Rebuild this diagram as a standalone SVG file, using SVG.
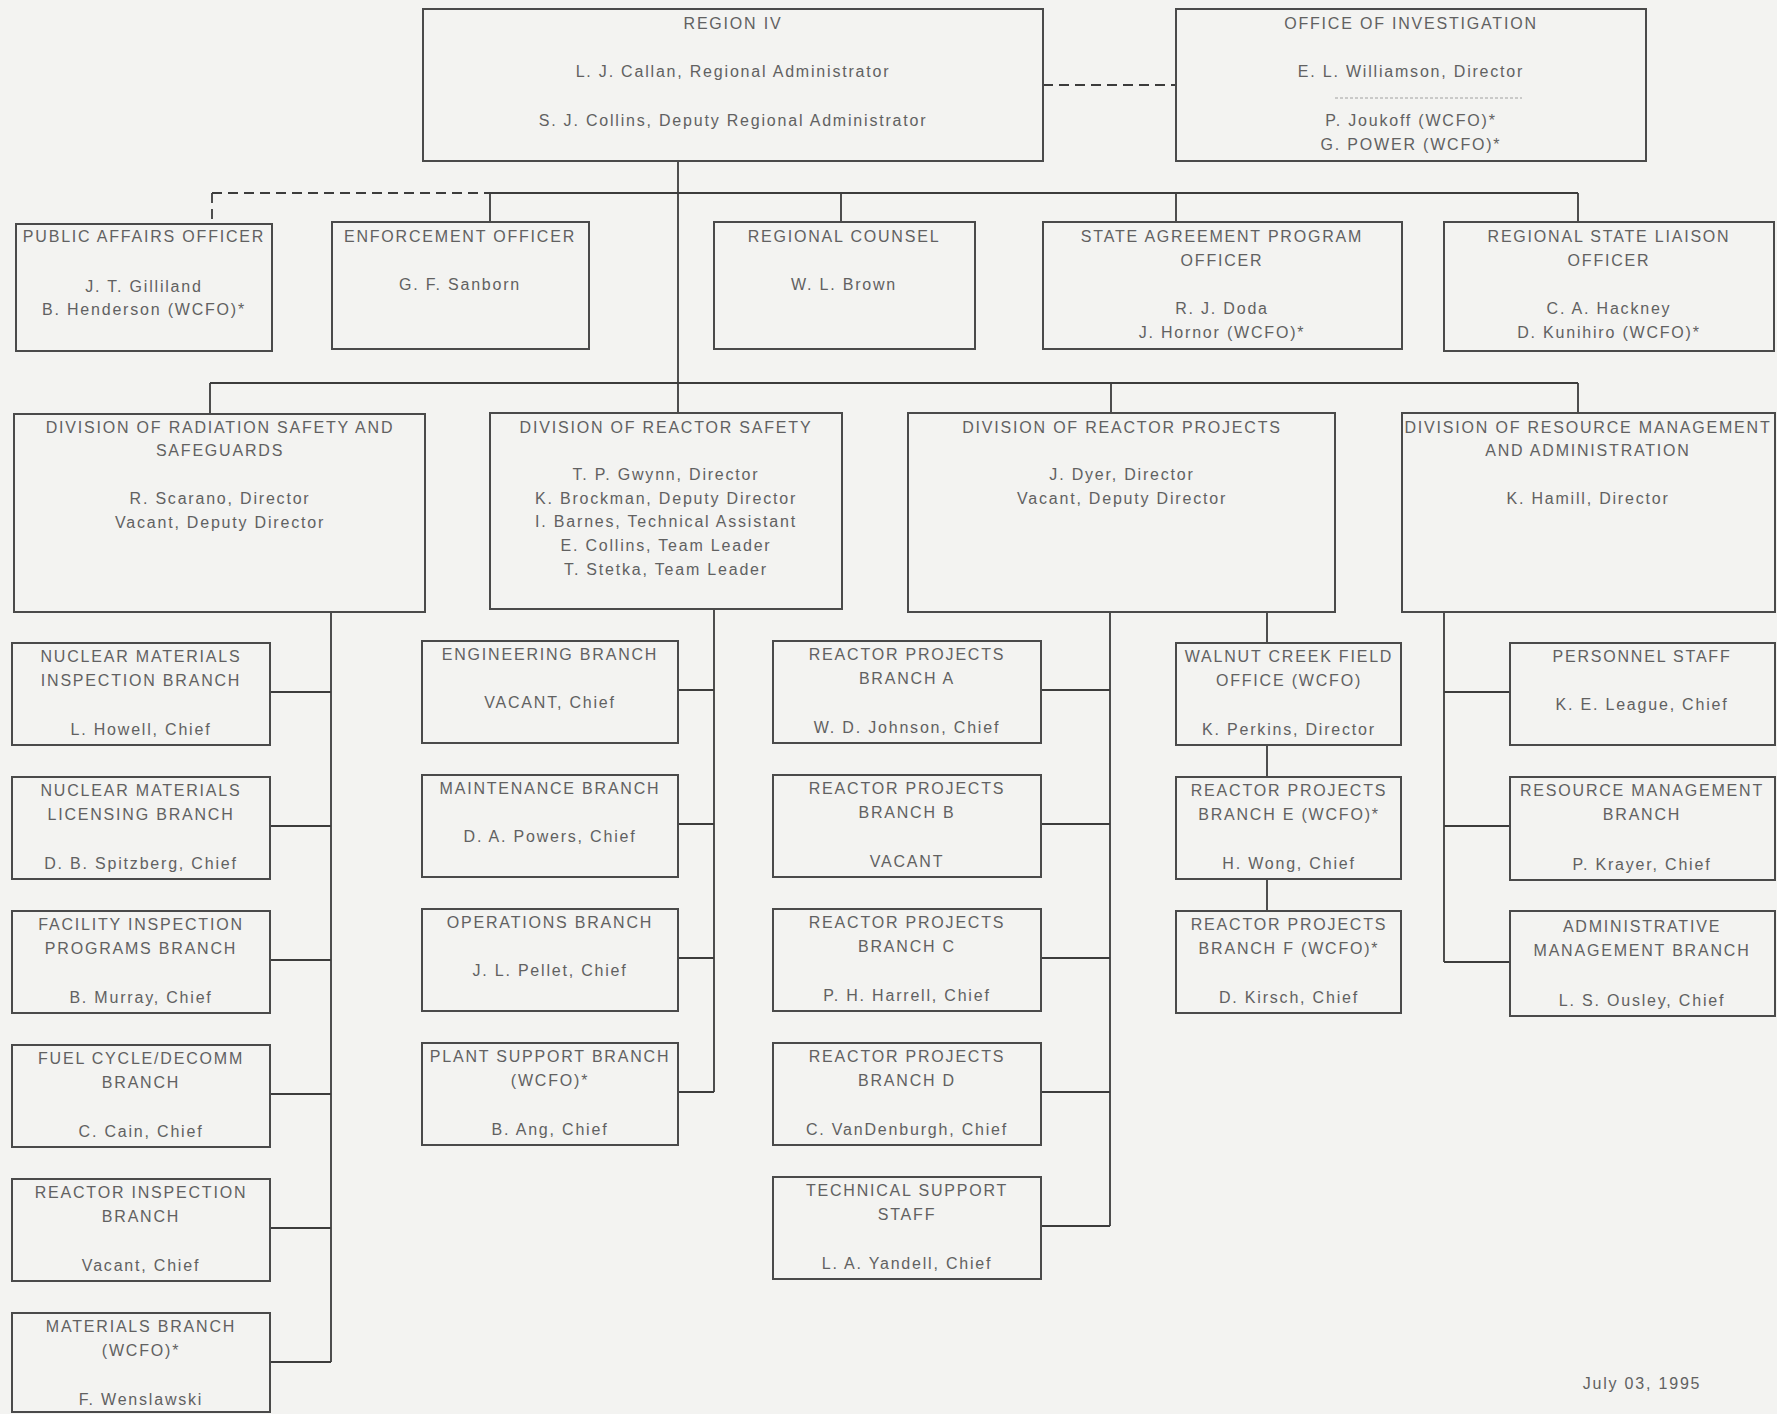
<svg xmlns="http://www.w3.org/2000/svg" width="1777" height="1414" viewBox="0 0 1777 1414">
<style>
.bg{fill:#f3f3f1}
.box{fill:none;stroke:#4a4a4a;stroke-width:2}
.ln{fill:none;stroke:#3c3c3c;stroke-width:1.8}
.dash{fill:none;stroke:#3c3c3c;stroke-width:1.8;stroke-dasharray:10 6}
.sep{fill:none;stroke:#a0a0a0;stroke-width:1;stroke-dasharray:3 2}
text{font-family:"Liberation Sans",Arial,sans-serif;font-size:16px;fill:#616161;text-anchor:middle;letter-spacing:1.8px}
</style>
<rect class="bg" x="0" y="0" width="1777" height="1414"/>
<g id="connectors">
<path class="dash" d="M1043 85H1176"/>
<path class="ln" d="M678 161V383"/>
<path class="dash" d="M212 193H490M212 193V224"/>
<path class="ln" d="M490 193H1578M490 193V222M841 193V222M1176 193V222M1578 193V222"/>
<path class="ln" d="M210 383H1578M210 383V414M678 383V413M1111 383V413M1578 383V413"/>
<path class="ln" d="M331 612V1362M270 692H331M270 826H331M270 960H331M270 1094H331M270 1228H331M270 1362H331"/>
<path class="ln" d="M714 609V1092M678 690H714M678 824H714M678 958H714M678 1092H714"/>
<path class="ln" d="M1110 612V1226M1041 690H1110M1041 824H1110M1041 958H1110M1041 1092H1110M1041 1226H1110"/>
<path class="ln" d="M1267 612V643M1267 745V777M1267 879V911"/>
<path class="ln" d="M1444 612V962M1444 692H1510M1444 826H1510M1444 962H1510"/>
</g>
<g id="region4"><rect class="box" x="423" y="9" width="620" height="152"/><text x="733" y="29">REGION IV</text><text x="733" y="77">L. J. Callan, Regional Administrator</text><text x="733" y="126">S. J. Collins, Deputy Regional Administrator</text></g>
<g id="investigation"><rect class="box" x="1176" y="9" width="470" height="152"/><text x="1411" y="29">OFFICE OF INVESTIGATION</text><text x="1411" y="77">E. L. Williamson, Director</text><path class="sep" d="M1335 98H1522"/><text x="1411" y="126">P. Joukoff (WCFO)*</text><text x="1411" y="150">G. POWER (WCFO)*</text></g>
<g id="public-affairs"><rect class="box" x="16" y="224" width="256" height="127"/><text x="144" y="242">PUBLIC AFFAIRS OFFICER</text><text x="144" y="292">J. T. Gilliland</text><text x="144" y="315">B. Henderson (WCFO)*</text></g>
<g id="enforcement"><rect class="box" x="332" y="222" width="257" height="127"/><text x="460" y="242">ENFORCEMENT OFFICER</text><text x="460" y="290">G. F. Sanborn</text></g>
<g id="counsel"><rect class="box" x="714" y="222" width="261" height="127"/><text x="844" y="242">REGIONAL COUNSEL</text><text x="844" y="290">W. L. Brown</text></g>
<g id="state-agreement"><rect class="box" x="1043" y="222" width="359" height="127"/><text x="1222" y="242">STATE AGREEMENT PROGRAM</text><text x="1222" y="266">OFFICER</text><text x="1222" y="314">R. J. Doda</text><text x="1222" y="338">J. Hornor (WCFO)*</text></g>
<g id="state-liaison"><rect class="box" x="1444" y="222" width="330" height="129"/><text x="1609" y="242">REGIONAL STATE LIAISON</text><text x="1609" y="266">OFFICER</text><text x="1609" y="314">C. A. Hackney</text><text x="1609" y="338">D. Kunihiro (WCFO)*</text></g>
<g id="drss"><rect class="box" x="14" y="414" width="411" height="198"/><text x="220" y="433">DIVISION OF RADIATION SAFETY AND</text><text x="220" y="456">SAFEGUARDS</text><text x="220" y="504">R. Scarano, Director</text><text x="220" y="528">Vacant, Deputy Director</text></g>
<g id="drs"><rect class="box" x="490" y="413" width="352" height="196"/><text x="666" y="433">DIVISION OF REACTOR SAFETY</text><text x="666" y="480">T. P. Gwynn, Director</text><text x="666" y="504">K. Brockman, Deputy Director</text><text x="666" y="527">I. Barnes, Technical Assistant</text><text x="666" y="551">E. Collins, Team Leader</text><text x="666" y="575">T. Stetka, Team Leader</text></g>
<g id="drp"><rect class="box" x="908" y="413" width="427" height="199"/><text x="1122" y="433">DIVISION OF REACTOR PROJECTS</text><text x="1122" y="480">J. Dyer, Director</text><text x="1122" y="504">Vacant, Deputy Director</text></g>
<g id="drma"><rect class="box" x="1402" y="413" width="373" height="199"/><text x="1588" y="433">DIVISION OF RESOURCE MANAGEMENT</text><text x="1588" y="456">AND ADMINISTRATION</text><text x="1588" y="504">K. Hamill, Director</text></g>
<g id="nm-inspection"><rect class="box" x="12" y="643" width="258" height="102"/><text x="141" y="662">NUCLEAR MATERIALS</text><text x="141" y="686">INSPECTION BRANCH</text><text x="141" y="735">L. Howell, Chief</text></g>
<g id="nm-licensing"><rect class="box" x="12" y="777" width="258" height="102"/><text x="141" y="796">NUCLEAR MATERIALS</text><text x="141" y="820">LICENSING BRANCH</text><text x="141" y="869">D. B. Spitzberg, Chief</text></g>
<g id="facility-inspection"><rect class="box" x="12" y="911" width="258" height="102"/><text x="141" y="930">FACILITY INSPECTION</text><text x="141" y="954">PROGRAMS BRANCH</text><text x="141" y="1003">B. Murray, Chief</text></g>
<g id="fuel-cycle"><rect class="box" x="12" y="1045" width="258" height="102"/><text x="141" y="1064">FUEL CYCLE/DECOMM</text><text x="141" y="1088">BRANCH</text><text x="141" y="1137">C. Cain, Chief</text></g>
<g id="reactor-inspection"><rect class="box" x="12" y="1179" width="258" height="102"/><text x="141" y="1198">REACTOR INSPECTION</text><text x="141" y="1222">BRANCH</text><text x="141" y="1271">Vacant, Chief</text></g>
<g id="materials"><rect class="box" x="12" y="1313" width="258" height="99"/><text x="141" y="1332">MATERIALS BRANCH</text><text x="141" y="1356">(WCFO)*</text><text x="141" y="1405">F. Wenslawski</text></g>
<g id="engineering"><rect class="box" x="422" y="641" width="256" height="102"/><text x="550" y="660">ENGINEERING BRANCH</text><text x="550" y="708">VACANT, Chief</text></g>
<g id="maintenance"><rect class="box" x="422" y="775" width="256" height="102"/><text x="550" y="794">MAINTENANCE BRANCH</text><text x="550" y="842">D. A. Powers, Chief</text></g>
<g id="operations"><rect class="box" x="422" y="909" width="256" height="102"/><text x="550" y="928">OPERATIONS BRANCH</text><text x="550" y="976">J. L. Pellet, Chief</text></g>
<g id="plant-support"><rect class="box" x="422" y="1043" width="256" height="102"/><text x="550" y="1062">PLANT SUPPORT BRANCH</text><text x="550" y="1086">(WCFO)*</text><text x="550" y="1135">B. Ang, Chief</text></g>
<g id="rp-a"><rect class="box" x="773" y="641" width="268" height="102"/><text x="907" y="660">REACTOR PROJECTS</text><text x="907" y="684">BRANCH A</text><text x="907" y="733">W. D. Johnson, Chief</text></g>
<g id="rp-b"><rect class="box" x="773" y="775" width="268" height="102"/><text x="907" y="794">REACTOR PROJECTS</text><text x="907" y="818">BRANCH B</text><text x="907" y="867">VACANT</text></g>
<g id="rp-c"><rect class="box" x="773" y="909" width="268" height="102"/><text x="907" y="928">REACTOR PROJECTS</text><text x="907" y="952">BRANCH C</text><text x="907" y="1001">P. H. Harrell, Chief</text></g>
<g id="rp-d"><rect class="box" x="773" y="1043" width="268" height="102"/><text x="907" y="1062">REACTOR PROJECTS</text><text x="907" y="1086">BRANCH D</text><text x="907" y="1135">C. VanDenburgh, Chief</text></g>
<g id="tech-support"><rect class="box" x="773" y="1177" width="268" height="102"/><text x="907" y="1196">TECHNICAL SUPPORT</text><text x="907" y="1220">STAFF</text><text x="907" y="1269">L. A. Yandell, Chief</text></g>
<g id="wcfo"><rect class="box" x="1176" y="643" width="225" height="102"/><text x="1289" y="662">WALNUT CREEK FIELD</text><text x="1289" y="686">OFFICE (WCFO)</text><text x="1289" y="735">K. Perkins, Director</text></g>
<g id="rp-e"><rect class="box" x="1176" y="777" width="225" height="102"/><text x="1289" y="796">REACTOR PROJECTS</text><text x="1289" y="820">BRANCH E (WCFO)*</text><text x="1289" y="869">H. Wong, Chief</text></g>
<g id="rp-f"><rect class="box" x="1176" y="911" width="225" height="102"/><text x="1289" y="930">REACTOR PROJECTS</text><text x="1289" y="954">BRANCH F (WCFO)*</text><text x="1289" y="1003">D. Kirsch, Chief</text></g>
<g id="personnel"><rect class="box" x="1510" y="643" width="265" height="102"/><text x="1642" y="662">PERSONNEL STAFF</text><text x="1642" y="710">K. E. League, Chief</text></g>
<g id="resource-mgmt"><rect class="box" x="1510" y="777" width="265" height="103"/><text x="1642" y="796">RESOURCE MANAGEMENT</text><text x="1642" y="820">BRANCH</text><text x="1642" y="870">P. Krayer, Chief</text></g>
<g id="admin-mgmt"><rect class="box" x="1510" y="911" width="265" height="105"/><text x="1642" y="932">ADMINISTRATIVE</text><text x="1642" y="956">MANAGEMENT BRANCH</text><text x="1642" y="1006">L. S. Ousley, Chief</text></g>
<text x="1642" y="1389">July 03, 1995</text>
</svg>
